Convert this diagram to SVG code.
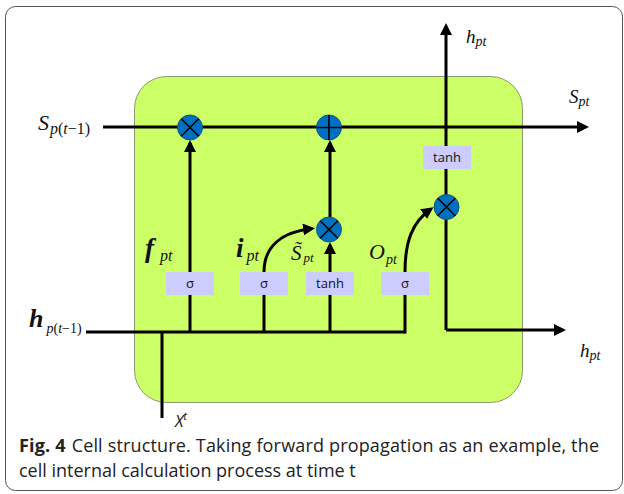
<svg xmlns="http://www.w3.org/2000/svg" width="624" height="494" viewBox="0 0 624 494">
<style>
.line{fill:none;stroke:#000;stroke-width:3}
.op{fill:#0070C0;stroke:#1d4f7c;stroke-width:1}
.sym{stroke:#000;stroke-width:1.6;fill:none}
.box{fill:#CCCCFF}
.bt{font-family:"Open Sans","DejaVu Sans",sans-serif;font-size:13px;fill:#111;text-anchor:middle}
.math{font-family:"Liberation Serif","DejaVu Serif",serif;font-style:italic;fill:#111}
.cap{font-family:"Open Sans","Liberation Sans",sans-serif;font-size:18px;fill:#222}
</style>
<defs>
<marker id="ah" viewBox="0 0 12 12" markerWidth="12" markerHeight="12" refX="9" refY="6" orient="auto" markerUnits="userSpaceOnUse">
<path d="M0,0 L12,6 L0,12 z" fill="#000"/>
</marker>
</defs>
<rect x="5.5" y="6.5" width="617" height="484" rx="10" fill="#fff" stroke="#555" stroke-width="1"/>
<g id="cell">
<rect x="134.5" y="76.5" width="388" height="326" rx="32" fill="#CCFF66" stroke="#8a9a70" stroke-width="1"/>
</g>
<g id="connectors">
<path class="line" d="M103,127 L586,127" marker-end="url(#ah)"/>
<path class="line" d="M446,330 L446,26" marker-end="url(#ah)"/>
<path class="line" d="M446,330 L563,330" marker-end="url(#ah)"/>
<path class="line" d="M86,332 L405,332"/>
<path class="line" d="M190,332 L190,143" marker-end="url(#ah)"/>
<path class="line" d="M264,332 L264,272 C264,246 282,232 312,228.5" marker-end="url(#ah)"/>
<path class="line" d="M330,332 L330,245" marker-end="url(#ah)"/>
<path class="line" d="M330,217 L330,143" marker-end="url(#ah)"/>
<path class="line" d="M405,333.5 L405,272 C405,242 412,222 431,209" marker-end="url(#ah)"/>
<path class="line" d="M162,332 L162,418"/>
</g>
<g id="forget-mul">
<circle class="op" cx="190" cy="127.5" r="12.5"/>
<path class="sym" d="M181.2,118.7 L198.8,136.3 M198.8,118.7 L181.2,136.3"/>
</g>
<g id="add">
<circle class="op" cx="329" cy="127.5" r="12.5"/>
<path class="sym" d="M329,115 L329,140 M316.5,127.5 L341.5,127.5"/>
</g>
<g id="input-mul">
<circle class="op" cx="329" cy="229.5" r="12.5"/>
<path class="sym" d="M320.2,220.7 L337.8,238.3 M337.8,220.7 L320.2,238.3"/>
</g>
<g id="output-mul">
<circle class="op" cx="446.5" cy="207" r="12.5"/>
<path class="sym" d="M437.7,198.2 L455.3,215.8 M455.3,198.2 L437.7,215.8"/>
</g>
<g id="tanh-out">
<rect class="box" x="423" y="146" width="48" height="23"/>
<text class="bt" x="447" y="162">tanh</text>
</g>
<g id="sigma-f">
<rect class="box" x="166" y="272" width="48" height="23"/>
<text class="bt" x="190" y="288" font-size="15">σ</text>
</g>
<g id="sigma-i">
<rect class="box" x="240" y="272" width="48" height="23"/>
<text class="bt" x="264" y="288" font-size="15">σ</text>
</g>
<g id="tanh-c">
<rect class="box" x="306" y="272" width="48" height="23"/>
<text class="bt" x="330" y="288">tanh</text>
</g>
<g id="sigma-o">
<rect class="box" x="381" y="272" width="48" height="23"/>
<text class="bt" x="405" y="288" font-size="15">σ</text>
</g>
<g id="labels">
<text class="math" x="38" y="130" font-size="22">S<tspan font-size="16" dx="1" dy="4">p</tspan><tspan font-size="16" font-style="normal">(</tspan><tspan font-size="16">t</tspan><tspan font-size="16" font-style="normal">−1)</tspan></text>
<text class="math" x="29" y="327" font-size="26" font-weight="bold">h<tspan font-size="14" font-weight="normal" dx="3" dy="6">p</tspan><tspan font-size="14" font-weight="normal" font-style="normal">(</tspan><tspan font-size="14" font-weight="normal">t</tspan><tspan font-size="14" font-weight="normal" font-style="normal">−1)</tspan></text>
<text class="math" x="145" y="257" font-size="27" font-weight="bold">f<tspan font-size="16" font-weight="normal" dx="6" dy="4">pt</tspan></text>
<text class="math" x="236" y="257" font-size="27" font-weight="bold">i<tspan font-size="16" font-weight="normal" dx="3" dy="4">pt</tspan></text>
<text class="math" x="291" y="260" font-size="21">S&#x0303;<tspan font-size="13" dx="2" dy="2">pt</tspan></text>
<text class="math" x="369" y="259" font-size="22">O<tspan font-size="14" dx="1" dy="5">pt</tspan></text>
<text class="math" x="466" y="43" font-size="19">h<tspan font-size="14" dy="3">pt</tspan></text>
<text class="math" x="569" y="103" font-size="19">S<tspan font-size="14" dy="3">pt</tspan></text>
<text class="math" x="580" y="357" font-size="19">h<tspan font-size="14" dy="3">pt</tspan></text>
<text font-family="Open Sans, sans-serif" font-style="italic" x="175" y="427" font-size="16" fill="#111">X<tspan font-size="11" dy="-7">t</tspan></text>
</g>
<g id="caption">
<text class="cap" x="19" y="452" textLength="580" lengthAdjust="spacing"><tspan font-weight="bold">Fig. 4</tspan><tspan dx="6">Cell structure. Taking forward propagation as an example, the</tspan></text>
<text class="cap" x="19" y="477">cell internal calculation process at time t</text>
</g>
</svg>
